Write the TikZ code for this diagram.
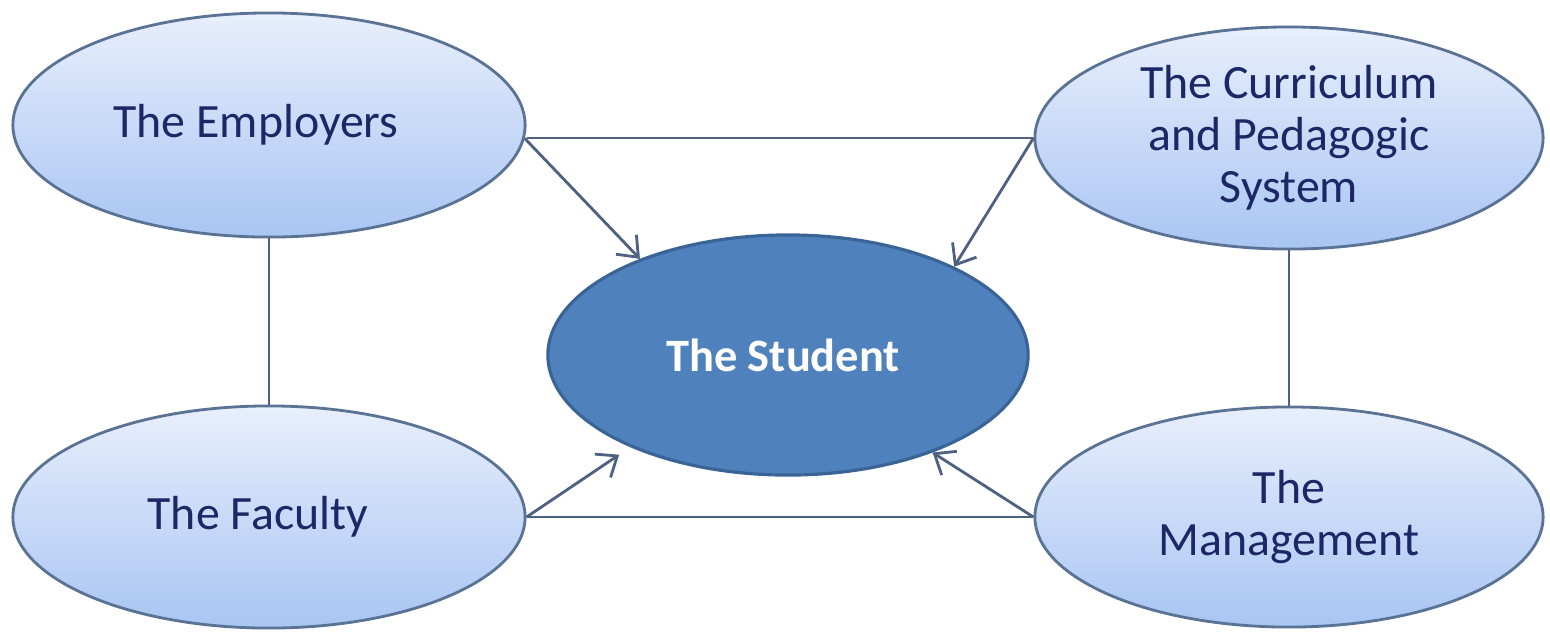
\documentclass[tikz,border=0pt]{standalone}
\usepackage{fontspec}
\setmainfont{Carlito}
\usetikzlibrary{shapes.geometric,arrows.meta}
\definecolor{outerTop}{HTML}{E8EFFC}
\definecolor{outerBot}{HTML}{A9C5F3}
\definecolor{outerLine}{HTML}{5A7394}
\definecolor{navyText}{HTML}{1C2766}
\definecolor{stuFill}{HTML}{4F81BD}
\definecolor{stuLine}{HTML}{3A6496}
\definecolor{linkC}{HTML}{4E6180}
\begin{document}
\begin{tikzpicture}[x=0.01cm,y=-0.01cm,
  outer/.style={ellipse, draw=outerLine, line width=0.8pt, top color=outerTop, bottom color=outerBot,
    text=navyText, align=center, inner sep=0pt, font=\fontsize{13.6}{14.8}\selectfont},
  centre/.style={ellipse, draw=stuLine, line width=0.9pt, fill=stuFill, text=white, inner sep=0pt,
    font=\fontsize{13.2}{15}\selectfont\bfseries},
  link/.style={draw=linkC, line width=0.8pt},
  arr/.style={link, -{Straight Barb[length=5pt,width=8pt]}}]
\useasboundingbox[fill=white] (0,0) rectangle (1550,632);

\node[outer, minimum width=5.12cm, minimum height=2.24cm] (emp) at (269,125) {The Employers\hspace*{0.26cm}};
\node[outer, minimum width=5.08cm, minimum height=2.22cm] (cur) at (1289,138) {The Curriculum\\and Pedagogic\\System};
\node[outer, minimum width=5.12cm, minimum height=2.22cm] (fac) at (269,517) {The Faculty\hspace*{0.22cm}};
\node[outer, minimum width=5.08cm, minimum height=2.20cm] (man) at (1289,517) {The\\Management};
\node[centre, minimum width=4.80cm, minimum height=2.40cm] (stu) at (788,355) {The Student\hspace*{0.1cm}};

% undirected links
\draw[link] (cur.west) -- (cur.west -| emp.east);
\draw[link] (fac.east) -- (man.west);
\draw[link] (emp.south) -- (fac.north);
\draw[link] (cur.south) -- (man.north);

% arrows to the student
\draw[arr] (emp.-3) -- (stu.147.5);
\draw[arr] (cur.west) -- (stu.28.6);
\draw[arr] (fac.east) -- ([shift={(-10,8)}]stu.210.5);
\draw[arr] (man.west) -- (stu.-34.2);
\end{tikzpicture}
\end{document}
